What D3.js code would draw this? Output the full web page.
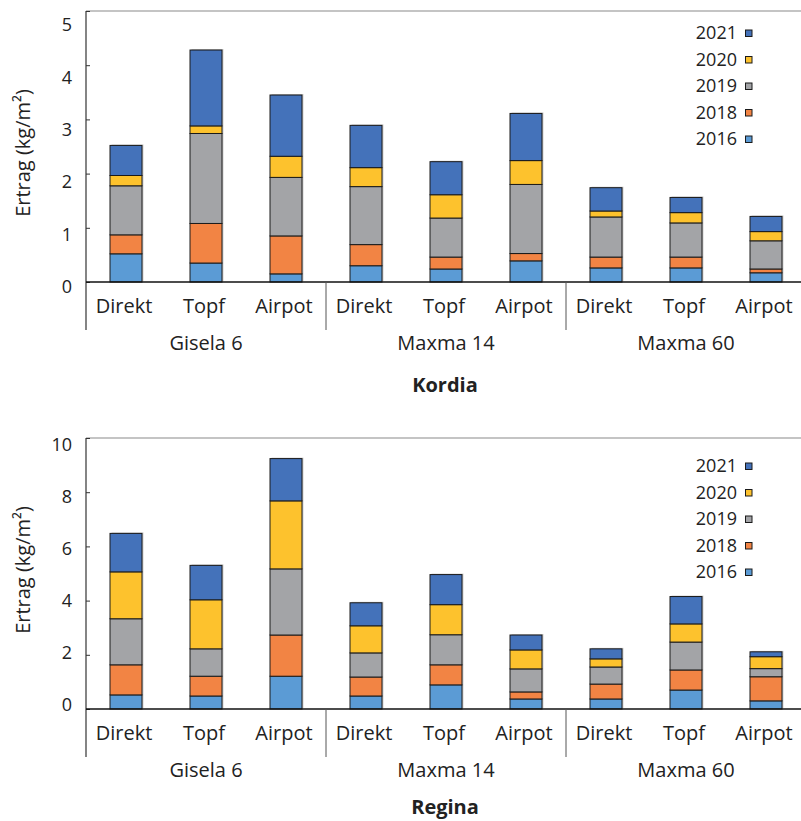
<!DOCTYPE html>
<html>
<head>
<meta charset="utf-8">
<script src="https://cdn.jsdelivr.net/npm/d3@7"></script>
<style>
  body { margin: 0; background: #fff; }
  text { font-family: "Open Sans", "Noto Sans", sans-serif; fill: #222; }
</style>
</head>
<body>
<div id="chart"></div>
<script>
// Categories
const groups = ['Gisela 6', 'Maxma 14', 'Maxma 60'];
const methods = ['Direkt', 'Topf', 'Airpot'];
const years = ['2016', '2018', '2019', '2020', '2021'];
const yearColors = ['#5B9BD5', '#F28444', '#A3A4A7', '#FDC22D', '#4472BA'];

// Kordia, Ertrag kg/m² per year (order: Gisela 6 D/T/A, Maxma 14 D/T/A, Maxma 60 D/T/A)
const kordia2016 = [0.52, 0.35, 0.15, 0.30, 0.24, 0.39, 0.26, 0.26, 0.17];
const kordia2018 = [0.35, 0.73, 0.70, 0.39, 0.22, 0.135, 0.20, 0.20, 0.07];
const kordia2019 = [0.905, 1.66, 1.08, 1.07, 0.72, 1.275, 0.74, 0.63, 0.52];
const kordia2020 = [0.19, 0.14, 0.39, 0.35, 0.43, 0.44, 0.11, 0.19, 0.17];
const kordia2021 = [0.555, 1.40, 1.13, 0.78, 0.61, 0.87, 0.43, 0.28, 0.28];

// Regina
const regina2016 = [0.52, 0.48, 1.21, 0.48, 0.89, 0.37, 0.37, 0.70, 0.30];
const regina2018 = [1.11, 0.73, 1.52, 0.70, 0.74, 0.26, 0.55, 0.74, 0.89];
const regina2019 = [1.70, 1.01, 2.44, 0.89, 1.11, 0.85, 0.63, 1.03, 0.30];
const regina2020 = [1.73, 1.81, 2.51, 1.00, 1.11, 0.70, 0.30, 0.67, 0.44];
const regina2021 = [1.42, 1.27, 1.56, 0.85, 1.11, 0.55, 0.37, 1.01, 0.18];

// Y tick values
const kordiaTicks = [0, 1, 2, 3, 4, 5];
const reginaTicks = [0, 2, 4, 6, 8, 10];

const W = 801, H = 821;
const svg = d3.select('#chart').append('svg')
    .attr('width', W).attr('height', H);

const categories = [];
groups.forEach(g => methods.forEach(m => categories.push({ key: g + '|' + m, group: g, method: m })));

function drawChart(opts) {
    const top = opts.top, base = opts.base, left = 86;

    // build rows for stacking
    const rows = categories.map((c, i) => {
        const r = { key: c.key };
        years.forEach((y, j) => { r[y] = opts.series[j][i]; });
        return r;
    });
    const stacked = d3.stack().keys(years)(rows);

    const x = d3.scaleBand()
        .domain(categories.map(c => c.key))
        .range([left, 806])
        .paddingInner(0.6)
        .paddingOuter(0.3);
    const y = d3.scaleLinear().domain([0, opts.max]).range([base, top]);
    // tick labels sit a bit apart from the tick marks in the original
    const yLab = d3.scaleLinear().domain([0, opts.max]).range(opts.labelRange);

    const g = svg.append('g');

    // top frame line
    g.append('line')
        .attr('x1', left).attr('x2', W)
        .attr('y1', top).attr('y2', top)
        .attr('stroke', '#8a8a8a').attr('stroke-width', 1.2);

    // y tick marks (inside)
    g.append('g')
        .attr('transform', 'translate(' + left + ',0)')
        .call(d3.axisRight(y).tickValues(opts.ticks).tickSize(4).tickFormat(''))
        .call(s => s.select('.domain').remove())
        .selectAll('line').attr('stroke', '#333');

    // y tick labels
    g.append('g')
        .attr('transform', 'translate(' + (left - 14) + ',0)')
        .call(d3.axisLeft(yLab).tickValues(opts.ticks).tickSize(0).tickPadding(0).tickFormat(d3.format('d')))
        .call(s => s.select('.domain').remove())
        .selectAll('text')
        .style('font-size', '18px')
        .style('font-family', '"Open Sans", sans-serif')
        .attr('fill', '#222');

    // y title
    g.append('text')
        .attr('transform', 'translate(23,' + opts.titleY + ') rotate(-90)')
        .attr('text-anchor', 'middle')
        .attr('dy', '0.35em')
        .style('font-size', '20px')
        .text('Ertrag (kg/m²)');

    // bars: faint shadow then the segments
    const layer = g.selectAll('.layer').data(stacked).enter().append('g')
        .attr('class', 'layer')
        .attr('fill', (d, i) => yearColors[i]);

    g.insert('g', '.layer').selectAll('rect')
        .data(rows).enter().append('rect')
        .attr('x', d => x(d.key) + 1.5)
        .attr('y', d => y(d3.sum(years, k => d[k])) - 1)
        .attr('width', x.bandwidth())
        .attr('height', d => base - y(d3.sum(years, k => d[k])))
        .attr('fill', '#cfcfcf');

    layer.selectAll('rect').data(d => d).enter().append('rect')
        .attr('x', d => x(d.data.key))
        .attr('y', d => y(d[1]))
        .attr('width', x.bandwidth())
        .attr('height', d => y(d[0]) - y(d[1]))
        .attr('stroke', '#1a1a1a')
        .attr('stroke-width', 1);

    // left axis line (runs down into the category area)
    g.append('line')
        .attr('x1', left).attr('x2', left)
        .attr('y1', top).attr('y2', base + 48)
        .attr('stroke', '#333').attr('stroke-width', 1.2);

    // baseline
    g.append('line')
        .attr('x1', left).attr('x2', W)
        .attr('y1', base).attr('y2', base)
        .attr('stroke', '#111').attr('stroke-width', 1.4);

    // group separators
    const gap = (x.step() - x.bandwidth()) / 2;
    groups.slice(1).forEach(gr => {
        const sx = x(gr + '|' + methods[0]) - gap;
        g.append('line')
            .attr('x1', sx).attr('x2', sx)
            .attr('y1', base).attr('y2', base + 48)
            .attr('stroke', '#555').attr('stroke-width', 1);
    });

    // category labels
    g.selectAll('.cat').data(categories).enter().append('text')
        .attr('class', 'cat')
        .attr('x', d => x(d.key) + x.bandwidth() / 2 - 2)
        .attr('y', base + 24)
        .attr('dy', '0.35em')
        .attr('text-anchor', 'middle')
        .style('font-size', '20px')
        .text(d => d.method);

    // group labels
    groups.forEach(gr => {
        const x0 = x(gr + '|' + methods[0]) - gap;
        const x1 = x(gr + '|' + methods[2]) + x.bandwidth() + gap;
        g.append('text')
            .attr('x', (x0 + x1) / 2)
            .attr('y', base + 61)
            .attr('dy', '0.35em')
            .attr('text-anchor', 'middle')
            .style('font-size', '20px')
            .text(gr);
    });

    // chart title
    g.append('text')
        .attr('x', 445)
        .attr('y', opts.headY)
        .attr('dy', '0.35em')
        .attr('text-anchor', 'middle')
        .style('font-size', '20px')
        .style('font-weight', 'bold')
        .text(opts.title);

    // legend (2021 on top)
    const leg = g.append('g');
    const order = years.map((yr, i) => ({ yr: yr, c: yearColors[i] })).reverse();
    order.forEach((d, i) => {
        const ly = opts.legendTop + i * 26.5;
        leg.append('text')
            .attr('x', 737).attr('y', ly)
            .attr('dy', '0.35em')
            .attr('text-anchor', 'end')
            .style('font-size', '18px')
            .text(d.yr);
        leg.append('rect')
            .attr('x', 745.5).attr('y', ly - 3)
            .attr('width', 6.5).attr('height', 6.5)
            .attr('fill', d.c)
            .attr('stroke', '#1a1a1a').attr('stroke-width', 1);
    });
}

drawChart({
    title: 'Kordia',
    series: [kordia2016, kordia2018, kordia2019, kordia2020, kordia2021],
    max: 5, ticks: kordiaTicks,
    top: 11, base: 282,
    labelRange: [287, 25],
    titleY: 153,
    headY: 385,
    legendTop: 33
});

drawChart({
    title: 'Regina',
    series: [regina2016, regina2018, regina2019, regina2020, regina2021],
    max: 10, ticks: reginaTicks,
    top: 438, base: 709,
    labelRange: [705, 445],
    titleY: 570,
    headY: 807,
    legendTop: 466
});
</script>
</body>
</html>
